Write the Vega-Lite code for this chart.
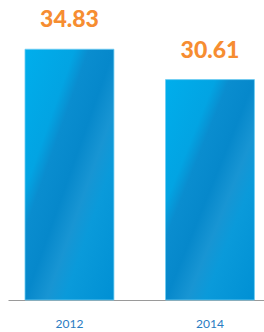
{
  "$schema": "https://vega.github.io/schema/vega-lite/v6.json",
  "autosize": "none",
  "width": 256,
  "height": 288,
  "padding": {"left": 8, "top": 12, "right": 0, "bottom": 32},
  "background": "white",
  "config": {"view": {"stroke": null}},
  "data": {"values": [
    {"year": "2012", "value": 34.83},
    {"year": "2014", "value": 30.61}
  ]},
  "encoding": {
    "x": {
      "field": "year", "type": "nominal", "sort": null,
      "scale": {"paddingInner": 0.367, "paddingOuter": 0.0945, "align": 0.64},
      "axis": {
        "title": null, "ticks": false, "labelAngle": 0, "labelPadding": 18,
        "labelFont": "Lato", "labelFontSize": 12, "labelColor": "#2a7cc2",
        "domainColor": "#9a9a9a", "domainWidth": 1.2
      }
    },
    "y": {
      "field": "value", "type": "quantitative",
      "scale": {"domain": [0, 40], "nice": false},
      "axis": null
    }
  },
  "layer": [
    {
      "mark": {
        "type": "bar",
        "stroke": "#6fcdf2", "strokeWidth": 0.8,
        "color": {
          "gradient": "linear", "x1": 0, "y1": 0, "x2": 1, "y2": 1,
          "stops": [
            {"offset": 0, "color": "#00aeec"},
            {"offset": 0.28, "color": "#02a4e3"},
            {"offset": 0.36, "color": "#0a8dcf"},
            {"offset": 0.5, "color": "#0688cb"},
            {"offset": 0.62, "color": "#1895d3"},
            {"offset": 0.72, "color": "#0a9ada"},
            {"offset": 1, "color": "#0090d4"}
          ]
        }
      }
    },
    {
      "mark": {
        "type": "text", "baseline": "alphabetic", "dy": -22,
        "font": "Lato", "fontWeight": 900, "fontSize": 23, "color": "#f68d31"
      },
      "encoding": {"text": {"field": "value", "type": "quantitative", "format": ".2f"}}
    }
  ]
}
